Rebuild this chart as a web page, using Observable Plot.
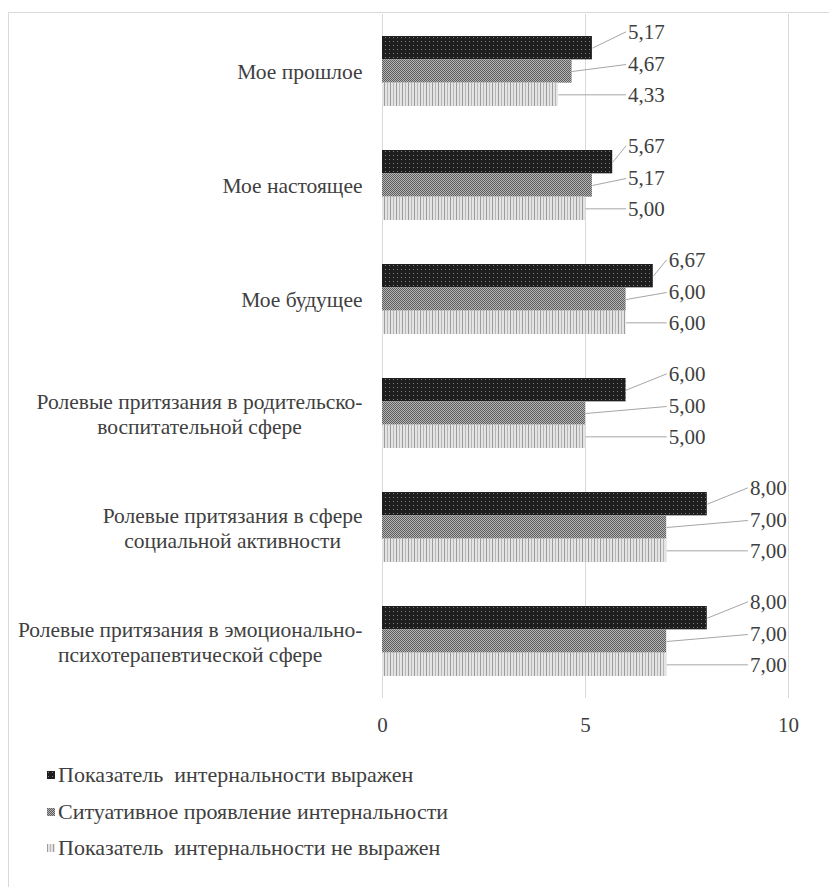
<!DOCTYPE html>
<html>
<head>
<meta charset="utf-8">
<script src="https://cdn.jsdelivr.net/npm/d3@7"></script>
<script src="https://cdn.jsdelivr.net/npm/@observablehq/plot@0.6"></script>
<style>
  html, body { margin: 0; padding: 0; background: #fff; }
  #wrap { position: relative; width: 829px; height: 887px; overflow: hidden; font-family: "Liberation Serif", "Times New Roman", serif; }
  #frame { position: absolute; left: 8px; top: 12px; width: 900px; height: 900px; border: 1px solid #d9d9d9; box-sizing: border-box; }
  #chart { position: absolute; left: 0; top: 0; }
  #legend { position: absolute; left: 0; top: 0; }
  .leg { position: absolute; left: 47px; font-size: 22px; color: #404040; white-space: pre; line-height: 24px; display: flex; align-items: center; font-family: "Liberation Serif", "Times New Roman", serif; }
  .leg svg { margin-right: 3px; }
  #chart svg text { font-family: "Liberation Serif", "Times New Roman", serif; }
</style>
</head>
<body>
<div id="wrap">
  <div id="frame"></div>
  <div id="chart"></div>
  <div id="legend"></div>
</div>
<script>
// ---- data ----
const categories = [
  "Мое прошлое",
  "Мое настоящее",
  "Мое будущее",
  "Ролевые притязания в родительско-\nвоспитательной сфере",
  "Ролевые притязания в сфере\nсоциальной активности",
  "Ролевые притязания в эмоционально-\nпсихотерапевтической сфере"
];
const series = [
  "Показатель  интернальности выражен",
  "Ситуативное проявление интернальности",
  "Показатель  интернальности не выражен"
];
const valuesExpressed    = [5.17, 5.67, 6.67, 6.00, 8.00, 8.00];
const valuesSituational  = [4.67, 5.17, 6.00, 5.00, 7.00, 7.00];
const valuesNotExpressed = [4.33, 5.00, 6.00, 5.00, 7.00, 7.00];
const xTicks = [0, 5, 10];

const seriesValues = [valuesExpressed, valuesSituational, valuesNotExpressed];
const patternIds = ["patDark", "patMid", "patLight"];
const labelLift = [-0.7, -0.3, 0.0]; // label shift in bar-heights per series

const rows = categories.flatMap((category, ci) => {
  const groupMax = d3.max(seriesValues, v => v[ci]);
  return seriesValues.map((vals, si) => ({
    category, series: series[si], si, value: vals[ci],
    labelX: Math.round(groupMax + 0.5)
  }));
});

const fmt = v => v.toFixed(2).replace(".", ",");
const textColor = "#404040";
const serif = '"Liberation Serif", "Times New Roman", serif';

const chart = Plot.plot({
  width: 829,
  height: 745,
  marginLeft: 382,
  marginRight: 41,
  marginTop: 12,
  marginBottom: 45,
  style: { fontFamily: serif, fontSize: "21px", color: textColor, background: "transparent" },
  x: { domain: [0, 10] },
  y: { domain: [0, 3], reverse: true, axis: null },
  fy: { domain: categories, paddingInner: 0.385, paddingOuter: 0.1925 },
  color: { domain: series, range: patternIds.map(id => `url(#${id})`) },
  marks: [
    Plot.ruleX(xTicks, { stroke: "#d9d9d9", strokeWidth: 1, insetTop: -22, insetBottom: -22 }),
    Plot.rect(rows, { fy: "category", x1: 0, x2: "value", y1: d => d.si, y2: d => d.si + 1, fill: "series" }),
    Plot.link(rows, { fy: "category", x1: "value", y1: d => d.si + 0.5, x2: "labelX", y2: d => d.si + 0.5 + labelLift[d.si], stroke: "#a6a6a6", strokeWidth: 1 }),
    Plot.text(rows, { fy: "category", x: "labelX", y: d => d.si + 0.5 + labelLift[d.si], text: d => fmt(d.value), textAnchor: "start", dx: 2, fill: textColor }),
    Plot.axisX({ ticks: xTicks, tickSize: 0, tickPadding: 41, label: null, tickFormat: d => String(d) }),
    Plot.axisFy({ anchor: "left", tickSize: 0, tickPadding: 20, label: null, lineHeight: 1.14, fontSize: 21.5 })
  ]
});

// pattern definitions
const ns = "http://www.w3.org/2000/svg";
const defsMarkup = `
  <pattern id="patDark" width="4" height="4" patternUnits="userSpaceOnUse">
    <rect width="4" height="4" fill="#1e1e1e"/>
    <rect x="1" y="1" width="1" height="1" fill="#7a7a7a"/>
  </pattern>
  <pattern id="patMid" width="2" height="2" patternUnits="userSpaceOnUse">
    <rect width="2" height="2" fill="#b4b4b4"/>
    <rect x="0" y="0" width="1" height="1" fill="#5e5e5e"/>
    <rect x="1" y="1" width="1" height="1" fill="#5e5e5e"/>
  </pattern>
  <pattern id="patLight" width="6" height="6" patternUnits="userSpaceOnUse">
    <rect width="6" height="6" fill="#e4e4e4"/>
    <rect x="0" y="0" width="1" height="6" fill="#9c9c9c"/>
    <rect x="3" y="0" width="1" height="6" fill="#b8b8b8"/>
  </pattern>`;
const defs = document.createElementNS(ns, "defs");
defs.innerHTML = defsMarkup;
chart.insertBefore(defs, chart.firstChild);

document.getElementById("chart").appendChild(chart);

// center multi-line category labels within their block (right-aligned block)
chart.querySelectorAll('g[aria-label="fy-axis tick label"] text').forEach(t => {
  const spans = t.querySelectorAll("tspan");
  if (spans.length > 1) {
    let maxW = 0;
    spans.forEach(s => { maxW = Math.max(maxW, s.getComputedTextLength()); });
    t.setAttribute("text-anchor", "middle");
    spans.forEach(s => s.setAttribute("x", -maxW / 2));
  }
});

// legend
const legend = document.getElementById("legend");
const legendTops = [763, 800, 836];
series.forEach((name, i) => {
  const item = document.createElement("div");
  item.className = "leg";
  item.style.top = legendTops[i] + "px";
  item.innerHTML = `<svg width="8" height="8"><defs>${defsMarkup.replace(/id="(\w+)"/g, 'id="$1L"')}</defs><rect width="8" height="8" fill="url(#${patternIds[i]}L)"/></svg>`;
  item.appendChild(document.createTextNode(name));
  legend.appendChild(item);
});
</script>
</body>
</html>
